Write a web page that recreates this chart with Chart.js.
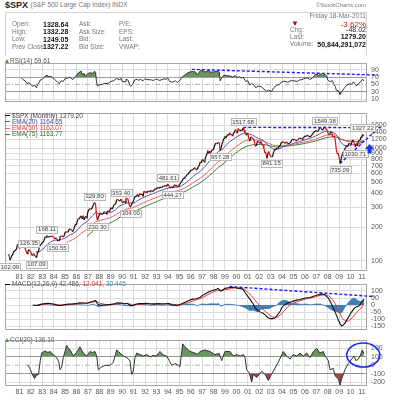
<!DOCTYPE html>
<html><head><meta charset="utf-8">
<script src="https://cdn.jsdelivr.net/npm/chart.js"></script>
<style>
html,body{margin:0;padding:0;background:#fff}
body{width:393px;height:400px;position:relative;overflow:hidden;font-family:"Liberation Sans",Arial,sans-serif}
canvas{position:absolute;left:0}
.t{position:absolute;white-space:nowrap;line-height:1}
.g{color:#777;font-size:6.5px}
.v{font-weight:bold;color:#111;font-size:7px}
.d{display:inline-block;width:5px;height:1px;vertical-align:middle;margin-right:2px}
.ic{display:inline-block;width:0;height:0;border-left:2.5px solid transparent;border-right:2.5px solid transparent;border-bottom:4px solid #5a8a4a;margin-right:1px;vertical-align:0}
</style></head><body>

<canvas id="rsi" width="393" height="55" style="top:55px"></canvas>
<canvas id="main" width="393" height="180" style="top:105px"></canvas>
<canvas id="macd" width="393" height="62" style="top:276px"></canvas>
<canvas id="cci" width="393" height="68" style="top:332px"></canvas>

<div class="t" style="left:5px;top:1px;font-size:9px;font-weight:bold;color:#222">$SPX <span style="font-weight:normal;font-size:6.5px;color:#777;vertical-align:1px">(S&amp;P 500 Large Cap Index) INDX</span></div>
<div class="t" style="right:27px;top:2px;font-size:6px;color:#777">©StockCharts.com</div>
<div style="position:absolute;left:5px;top:12px;width:360px;height:43px;border:1px solid #d4d4d4;border-bottom:none"></div>

<div class="t g" style="left:12px;top:21px">Open:</div>
<div class="t v" style="left:43px;top:20.5px">1328.64</div>
<div class="t g" style="left:79px;top:21px">Ask:</div>
<div class="t g" style="left:119px;top:21px">P/E:</div>
<div class="t g" style="left:12px;top:28.5px">High:</div>
<div class="t v" style="left:43px;top:28px">1332.28</div>
<div class="t g" style="left:79px;top:28.5px">Ask Size:</div>
<div class="t g" style="left:119px;top:28.5px">EPS:</div>
<div class="t g" style="left:12px;top:36px">Low:</div>
<div class="t v" style="left:43px;top:35.5px">1249.05</div>
<div class="t g" style="left:79px;top:36px">Bid:</div>
<div class="t g" style="left:119px;top:36px">Last:</div>
<div class="t g" style="left:12px;top:43.5px">Prev Close:</div>
<div class="t v" style="left:43px;top:43px">1327.22</div>
<div class="t g" style="left:79px;top:43.5px">Bid Size:</div>
<div class="t g" style="left:119px;top:43.5px">VWAP:</div>

<div class="t g" style="right:27px;top:13px">Friday 18-Mar-2011</div>
<div class="t" style="left:291px;top:20px;font-size:8px;color:#a01010">▼</div>
<div class="t" style="right:27px;top:20.5px;font-size:8px;color:#b01818">-3.62%</div>
<div class="t g" style="left:290px;top:26.5px">Chg:</div>
<div class="t" style="right:27px;top:26px;font-size:7px;color:#222">-48.02</div>
<div class="t g" style="left:290px;top:33.5px">Last:</div>
<div class="t v" style="right:27px;top:33px">1279.20</div>
<div class="t g" style="left:290px;top:41px">Volume:</div>
<div class="t v" style="right:27px;top:40.5px">50,844,291,072</div>

<div class="t" style="left:5px;top:57.5px;font-size:6.5px;color:#555"><span class="ic"></span>RSI(14) 59.61</div>
<div class="t" style="left:5px;top:112.5px;font-size:6.5px;color:#444"><span class="d" style="background:#111"></span>$SPX (Monthly) 1279.20</div>
<div class="t" style="left:5px;top:118.5px;font-size:6.5px;color:#44449a"><span class="d" style="background:#5555aa"></span>EMA(20) 1164.65</div>
<div class="t" style="left:5px;top:125px;font-size:6.5px;color:#e04040"><span class="d" style="background:#ff5a5a"></span>EMA(50) 1162.07</div>
<div class="t" style="left:5px;top:131.3px;font-size:6.5px;color:#336633"><span class="d" style="background:#3d7a3d"></span>EMA(75) 1163.77</div>
<div class="t" style="left:5px;top:281px;font-size:6.5px;color:#555"><span class="d" style="background:#111"></span>MACD(12,26,9) 42.486, <span style="color:#e03030">12.041</span>, <span style="color:#3f7fb5">30.445</span></div>
<div class="t" style="left:5px;top:336.5px;font-size:6.5px;color:#555"><span class="ic"></span>CCI(20) 136.10</div>

<script>
// ---------- DATA ----------
const priceStartYear = 1980; // monthly closes from Jan 1980
const spxClose = [
114.16,113.66,102.09,106.29,111.24,114.24,121.67,122.38,125.46,127.47,140.52,135.76,
129.55,131.27,136.00,132.81,132.59,131.21,130.92,122.79,116.18,121.89,126.35,122.55,
120.40,113.11,111.96,116.44,111.88,109.61,107.09,119.51,120.42,133.71,138.54,140.64,
145.30,148.06,152.96,164.42,162.39,168.11,162.56,164.40,166.07,163.55,166.40,164.93,
163.41,157.06,159.18,160.05,150.55,153.18,150.66,166.68,166.10,166.09,163.58,167.24,
179.63,181.18,180.66,179.83,189.55,191.85,190.92,188.63,182.08,189.82,202.17,211.28,
211.78,226.92,238.90,235.52,247.35,250.84,236.12,252.93,231.32,243.98,249.22,242.17,
274.08,284.20,291.70,288.36,290.10,304.00,318.66,329.80,321.83,251.79,230.30,247.08,
257.07,267.82,258.89,261.33,262.16,273.50,272.02,261.52,271.91,278.97,273.70,277.72,
297.47,288.86,294.87,309.64,320.52,317.98,346.08,351.45,349.15,340.36,345.99,353.40,
329.08,331.89,339.94,330.80,361.23,358.02,356.15,322.56,306.05,304.00,322.22,330.22,
343.93,367.07,375.22,375.35,389.83,371.16,387.81,395.43,387.86,392.45,375.22,417.09,
408.79,412.70,403.69,414.95,415.35,408.14,424.21,414.03,417.80,418.68,431.35,435.71,
438.78,443.38,451.67,440.19,450.19,450.53,448.13,463.56,458.93,467.83,461.79,466.45,
481.61,467.14,445.77,450.91,456.50,444.27,458.26,475.49,462.69,472.35,453.69,459.27,
470.42,487.39,500.71,514.71,533.40,544.75,562.06,561.88,584.41,581.50,605.37,615.93,
636.02,640.43,645.50,654.17,669.12,670.63,639.95,651.99,687.31,705.27,757.02,740.74,
786.16,790.82,757.12,801.34,848.28,885.14,954.29,899.47,947.28,914.62,955.40,970.43,
980.28,1049.34,1101.75,1111.75,1090.82,1133.84,1120.67,957.28,1017.01,1098.67,1163.63,1229.23,
1279.64,1238.33,1286.37,1335.18,1301.84,1372.71,1328.72,1320.41,1282.71,1362.93,1388.91,1469.25,
1394.46,1366.42,1498.58,1452.43,1420.60,1454.60,1430.83,1517.68,1436.51,1429.40,1314.95,1320.28,
1366.01,1239.94,1160.33,1249.46,1255.82,1224.38,1211.23,1133.58,1040.94,1059.78,1139.45,1148.08,
1130.20,1106.73,1147.39,1076.92,1067.14,989.82,911.62,916.07,815.28,885.76,936.31,879.82,
855.70,841.15,848.18,916.92,963.59,974.50,990.31,1008.01,995.97,1050.71,1058.20,1111.92,
1131.13,1144.94,1126.21,1107.30,1120.68,1140.84,1101.72,1104.24,1114.58,1130.20,1173.82,1211.92,
1181.27,1203.60,1180.59,1156.85,1191.50,1191.33,1234.18,1220.33,1228.81,1207.01,1249.48,1248.29,
1280.08,1280.66,1294.83,1310.61,1270.09,1270.20,1276.66,1303.82,1335.85,1377.94,1400.63,1418.30,
1438.24,1406.82,1420.86,1482.37,1530.62,1503.35,1455.27,1473.99,1526.75,1549.38,1481.14,1468.36,
1378.55,1330.63,1322.70,1385.59,1400.38,1280.00,1267.38,1282.83,1166.36,968.75,896.24,903.25,
825.88,735.09,797.87,872.81,919.14,919.32,987.48,1020.62,1057.08,1036.19,1095.63,1115.10,
1073.87,1104.49,1169.43,1186.69,1089.41,1030.71,1101.60,1049.33,1141.20,1183.26,1180.55,1257.64,
1286.12,1327.22,1279.20];

// quarterly (quarter-end) EMA readings
const ema20Start = 1982 + 5/12;
const ema20 = [121,119.62,124.29,130.63,139.53,145.95,150.87,153.20,153.56,155.53,158.15,163.94,169.93,174.41,181.32,192.86,206.25,215.02,222.82,238.49,252.91,271.18,263.89,263.21,263.85,265.05,268.09,274.73,285.43,301.86,313.44,318.67,326.79,327.17,325.00,334.61,346.06,357.54,367.22,377.88,386.93,395.16,403.81,414.37,422.82,431.64,440.38,446.71,447.71,452.31,454.76,462.90,480.53,503.56,528.78,557.76,585.44,604.68,638.26,674.46,718.60,774.30,818.99,877.21,938.05,962.29,1014.49,1080.18,1146.58,1189.07,1245.52,1290.66,1330.00,1364.10,1361.71,1334.19,1310.63,1263.48,1225.22,1200.07,1159.81,1087.60,1039.17,989.75,979.88,984.60,1007.65,1040.40,1061.78,1073.45,1098.97,1122.16,1137.11,1160.59,1179.85,1207.13,1226.94,1247.27,1286.56,1321.63,1369.24,1399.31,1425.29,1404.23,1391.56,1352.01,1240.83,1123.11,1066.29,1054.75,1061.89,1075.89,1082.72,1086.52,1117.76,1164.65];
const ema50Start = 1985 + 2/12;
const ema50 = [146,150.64,154.77,160.00,167.44,176.16,183.38,190.36,200.87,211.41,224.07,226.22,230.18,234.19,238.07,242.45,248.24,255.90,266.40,275.46,282.03,289.71,294.06,296.86,304.22,312.64,321.42,329.73,338.62,347.01,355.11,363.41,372.59,381.00,389.58,398.15,405.69,410.76,416.94,422.01,429.26,440.75,455.30,471.76,490.84,510.48,527.35,550.74,576.43,606.77,643.71,677.96,719.30,763.69,793.97,835.76,884.62,935.69,978.06,1026.53,1070.97,1112.96,1152.37,1175.25,1184.31,1190.96,1183.91,1176.21,1170.78,1156.52,1125.38,1099.98,1071.54,1058.00,1051.24,1053.77,1062.84,1069.63,1073.83,1084.92,1096.62,1106.03,1119.79,1132.80,1150.02,1165.12,1180.97,1205.60,1230.05,1261.17,1286.50,1310.59,1314.36,1318.99,1309.93,1266.18,1211.95,1177.12,1159.57,1150.84,1146.90,1141.86,1136.83,1144.78,1162.07];
const ema75Start = 1986 + 11/12;
const ema75 = [165,174.12,183.36,194.14,197.91,202.79,207.64,212.32,217.28,223.17,230.33,239.45,247.70,254.32,261.69,266.82,270.82,277.85,285.63,293.70,301.50,309.73,317.67,325.45,333.39,341.95,350.04,358.27,366.51,374.08,379.97,386.55,392.35,399.58,409.69,421.99,435.77,451.55,467.96,482.73,502.10,523.35,548.11,577.80,606.22,639.91,676.27,703.64,739.08,779.81,822.68,860.25,902.35,942.20,980.73,1017.76,1043.72,1060.02,1074.13,1078.32,1081.20,1084.81,1081.72,1066.27,1053.52,1037.72,1031.10,1028.56,1032.03,1039.88,1046.28,1050.95,1060.27,1070.14,1078.59,1090.08,1101.23,1115.40,1128.35,1141.99,1161.78,1181.81,1206.73,1228.18,1249.08,1256.39,1264.01,1262.07,1235.94,1201.31,1178.40,1166.33,1159.86,1156.48,1152.30,1148.07,1152.62,1163.77];

// indicator readings: [decimal year, value]
const rsiSeries = [[1981.17,68],[1981.33,63],[1981.5,60],[1981.67,52],[1981.83,55],[1982.0,50],[1982.17,45],[1982.33,48],[1982.5,41],[1982.58,50],[1982.75,56],[1982.83,62],[1983.0,64],[1983.25,72],[1983.42,75],[1983.58,71],[1983.75,72],[1983.92,68],[1984.08,64],[1984.33,56],[1984.5,52],[1984.67,60],[1984.83,58],[1985.0,66],[1985.17,67],[1985.42,70],[1985.67,63],[1985.92,72],[1986.17,82],[1986.42,86],[1986.5,77],[1986.67,80],[1986.75,72],[1987.0,80],[1987.25,82],[1987.42,80],[1987.58,86],[1987.67,83],[1987.75,57],[1987.83,46],[1988.0,49],[1988.25,50],[1988.5,53],[1988.75,52],[1989.0,58],[1989.25,60],[1989.5,66],[1989.75,63],[1989.92,66],[1990.0,58],[1990.25,57],[1990.33,64],[1990.5,62],[1990.67,48],[1990.75,45],[1990.92,50],[1991.08,62],[1991.33,64],[1991.42,61],[1991.58,64],[1991.83,60],[1992.0,66],[1992.17,63],[1992.42,63],[1992.58,62],[1992.75,61],[1992.92,64],[1993.08,64],[1993.25,61],[1993.5,63],[1993.58,65],[1993.83,64],[1994.0,67],[1994.17,58],[1994.42,56],[1994.67,60],[1994.83,55],[1995.0,59],[1995.25,70],[1995.5,76],[1995.67,80],[1995.92,84],[1996.17,85],[1996.42,84],[1996.58,76],[1996.83,87],[1997.0,88],[1997.17,84],[1997.42,85],[1997.58,89],[1997.67,83],[1997.83,84],[1998.0,84],[1998.25,86],[1998.5,84],[1998.58,60],[1998.75,70],[1998.92,75],[1999.17,74],[1999.42,73],[1999.67,70],[1999.92,74],[2000.08,68],[2000.25,71],[2000.5,67],[2000.58,70],[2000.83,58],[2001.0,60],[2001.17,48],[2001.33,53],[2001.58,47],[2001.67,41],[2001.92,45],[2002.17,44],[2002.42,37],[2002.67,31],[2002.83,35],[2002.92,33],[2003.08,31],[2003.25,40],[2003.5,47],[2003.75,50],[2004.0,57],[2004.17,59],[2004.5,56],[2004.83,61],[2005.0,60],[2005.33,58],[2005.5,62],[2005.75,63],[2005.92,66],[2006.25,68],[2006.42,63],[2006.67,68],[2006.83,74],[2006.92,78],[2007.08,78],[2007.17,74],[2007.42,79],[2007.58,74],[2007.75,78],[2007.92,72],[2008.0,62],[2008.17,58],[2008.42,60],[2008.5,52],[2008.67,44],[2008.75,34],[2008.92,33],[2009.0,28],[2009.08,22],[2009.17,27],[2009.33,35],[2009.5,42],[2009.67,48],[2009.92,52],[2010.08,50],[2010.25,57],[2010.42,50],[2010.5,46],[2010.67,52],[2010.83,56],[2011.0,62],[2011.08,64],[2011.17,59.61]];

const macdSeries = [[1982.17,0],[1982.58,-3],[1982.83,5],[1983.25,11],[1983.5,13],[1983.92,8],[1984.33,-1],[1984.58,-3],[1984.92,2],[1985.25,7],[1985.58,8],[1985.92,10],[1986.25,16],[1986.58,15],[1986.92,13],[1987.25,22],[1987.58,30],[1987.67,31],[1987.75,22],[1987.83,8],[1988.0,1],[1988.33,0],[1988.67,2],[1989.0,5],[1989.33,10],[1989.58,16],[1989.92,15],[1990.17,8],[1990.42,12],[1990.75,-3],[1990.92,-5],[1991.17,6],[1991.5,11],[1991.83,10],[1992.08,12],[1992.5,8],[1992.83,7],[1993.17,10],[1993.5,8],[1993.83,9],[1994.08,10],[1994.33,2],[1994.67,0],[1994.92,-1],[1995.17,8],[1995.5,20],[1995.83,32],[1996.17,42],[1996.5,45],[1996.81,54],[1997.1,72],[1997.4,85],[1997.7,98],[1997.98,105],[1998.25,112],[1998.4,118],[1998.58,100],[1998.75,102],[1999.0,118],[1999.44,124],[1999.9,124],[2000.08,120],[2000.32,118],[2000.58,112],[2000.76,89],[2001.0,62],[2001.2,40],[2001.42,14],[2001.64,-18],[2001.83,-35],[2002.07,-48],[2002.33,-58],[2002.5,-67],[2002.67,-82],[2002.8,-91],[2003.09,-97],[2003.38,-91],[2003.58,-72],[2003.82,-45],[2004.0,-15],[2004.26,5],[2004.5,14],[2004.7,20],[2005.0,28],[2005.28,35],[2005.58,40],[2005.86,46],[2006.17,52],[2006.45,54],[2006.75,62],[2007.03,70],[2007.25,74],[2007.47,79],[2007.76,72],[2008.05,50],[2008.2,28],[2008.35,5],[2008.5,-22],[2008.64,-48],[2008.8,-80],[2008.93,-106],[2009.08,-132],[2009.22,-148],[2009.37,-140],[2009.51,-126],[2009.66,-106],[2009.8,-87],[2009.95,-66],[2010.1,-48],[2010.25,-30],[2010.39,-18],[2010.54,-12],[2010.68,-9],[2010.83,2],[2010.97,20],[2011.08,32],[2011.17,42.49]];

const signalSeries = [[1982.5,0],[1983.0,3],[1983.5,9],[1984.0,8],[1984.5,2],[1985.0,0],[1985.5,5],[1986.0,8],[1986.5,13],[1987.0,14],[1987.5,22],[1987.75,26],[1988.0,15],[1988.5,5],[1989.0,3],[1989.5,9],[1990.0,13],[1990.5,10],[1990.92,3],[1991.5,6],[1992.0,9],[1992.5,10],[1993.0,9],[1993.5,9],[1994.0,9],[1994.5,5],[1995.0,1],[1995.5,10],[1996.0,24],[1996.5,38],[1996.92,48],[1997.33,66],[1997.83,88],[1998.33,104],[1998.75,106],[1999.17,110],[1999.58,118],[2000.0,122],[2000.5,118],[2000.83,104],[2001.17,78],[2001.5,48],[2001.83,16],[2002.17,-18],[2002.5,-42],[2002.83,-66],[2003.17,-84],[2003.5,-88],[2003.83,-72],[2004.17,-42],[2004.5,-14],[2004.83,8],[2005.25,22],[2005.67,34],[2006.08,43],[2006.5,50],[2006.92,58],[2007.33,68],[2007.75,74],[2008.08,66],[2008.42,40],[2008.75,-5],[2009.0,-50],[2009.25,-90],[2009.58,-115],[2009.83,-112],[2010.17,-88],[2010.5,-55],[2010.75,-35],[2010.83,-28],[2010.92,-19],[2011.0,-10],[2011.08,0],[2011.17,12.04]];

const histSeries = [[1982.5,-2],[1983.0,4],[1983.5,3],[1984.0,-2],[1984.5,-4],[1985.0,2],[1985.5,2],[1986.0,3],[1986.5,2],[1987.0,-2],[1987.5,6],[1987.75,-4],[1987.92,-12],[1988.25,-5],[1988.75,-2],[1989.25,5],[1989.75,4],[1990.25,-3],[1990.75,-8],[1991.17,2],[1991.5,4],[1992.0,2],[1992.5,-2],[1993.0,1],[1993.5,-1],[1994.0,1],[1994.42,-5],[1994.83,-5],[1995.25,5],[1995.75,8],[1996.25,6],[1996.58,-3],[1997.0,8],[1997.42,6],[1997.75,10],[1998.25,8],[1998.42,12],[1998.67,-8],[1999.0,6],[1999.42,6],[1999.83,2],[2000.25,-2],[2000.75,-18],[2001.17,-38],[2001.5,-36],[2001.83,-48],[2002.17,-30],[2002.5,-25],[2002.83,-25],[2003.17,-12],[2003.5,-2],[2003.83,25],[2004.17,35],[2004.5,28],[2004.83,12],[2005.25,12],[2005.67,5],[2006.08,8],[2006.5,2],[2006.92,8],[2007.33,8],[2007.75,-3],[2008.08,-20],[2008.42,-38],[2008.75,-45],[2009.08,-58],[2009.25,-52],[2009.5,-15],[2009.83,22],[2010.08,42],[2010.33,50],[2010.58,35],[2010.83,25],[2011.0,30],[2011.17,30.45]];

const cciSeries = [[1981.75,0],[1981.92,-40],[1982.17,-120],[1982.33,-157],[1982.5,-120],[1982.67,-110],[1982.83,54],[1982.95,145],[1983.24,170],[1983.5,150],[1983.68,163],[1983.97,126],[1984.27,90],[1984.45,40],[1984.56,-54],[1984.7,-20],[1984.84,90],[1985.14,235],[1985.3,200],[1985.43,185],[1985.72,110],[1986.0,150],[1986.3,218],[1986.45,180],[1986.6,145],[1986.89,109],[1987.18,163],[1987.4,150],[1987.62,163],[1987.77,109],[1987.91,-54],[1988.1,-30],[1988.35,-10],[1988.6,0],[1988.85,-5],[1989.05,10],[1989.22,36],[1989.52,181],[1989.81,145],[1990.1,109],[1990.4,90],[1990.68,54],[1990.83,-109],[1990.97,-72],[1991.12,90],[1991.27,145],[1991.56,126],[1991.85,109],[1992.15,126],[1992.45,100],[1992.7,115],[1993.0,110],[1993.31,163],[1993.6,120],[1993.9,109],[1994.1,60],[1994.34,0],[1994.63,18],[1994.92,0],[1995.06,-18],[1995.3,254],[1995.5,218],[1995.94,163],[1996.37,145],[1996.6,130],[1996.81,163],[1997.25,181],[1997.69,163],[1998.13,126],[1998.5,140],[1998.71,54],[1999.0,163],[1999.44,163],[1999.73,109],[2000.03,126],[2000.32,109],[2000.61,126],[2000.76,90],[2000.9,-54],[2001.13,-90],[2001.34,-200],[2001.48,-109],[2001.78,-145],[2002.0,-109],[2002.22,-72],[2002.51,-109],[2002.8,-181],[2003.0,-126],[2003.23,-72],[2003.67,36],[2004.11,163],[2004.4,109],[2004.7,72],[2004.98,126],[2005.28,109],[2005.57,145],[2005.86,109],[2006.16,145],[2006.45,90],[2006.74,163],[2007.03,200],[2007.32,145],[2007.61,163],[2007.76,109],[2008.05,54],[2008.2,-54],[2008.49,-36],[2008.64,-126],[2008.93,-163],[2009.07,-236],[2009.22,-163],[2009.51,-54],[2009.8,18],[2010.1,72],[2010.3,109],[2010.47,54],[2010.68,72],[2010.83,109],[2011.03,181],[2011.17,136.1]];

// annotated closes: month index from Jan 1980, +1 label above / -1 below
const annIdx  = [2,22,30,41,52,91,94,119,129,168,173,223,247,277,333,349,365,373];
const annSide = [-1,1,-1,1,-1,1,-1,1,-1,1,-1,-1,1,-1,1,-1,-1,1];

// drawn trend lines [year, value]
const rsiTrend = [[1996.1,91],[2012.4,75.5]];
const spxTopTrend = [[2000.6,1535],[2012.7,1525]];
const spxLowTrend = [[2009.08,735],[2012.3,1465]];
const macdTrend = [[1999.4,131],[2012.1,60]];
const arrowAt = [2011.66, 986];
const ellipseAt = [2011.11, 121];

// axis ticks
const rsiTicks = [10,30,50,70,90];
const priceTicks = [100,200,300,400,500,600,700,800,900,1000,1200,1400,1600];
const macdTicks = [-150,-100,-50,0,50,100];
const cciTicks = [-200,-100,0,100,200];

// ---------- CHARTS ----------
const FONT = '"Liberation Sans", Arial, sans-serif';
const X_MIN = 1979.739, X_MAX = 2011.438;
const yearTicks = []; for (let yr = 1981; yr <= 2011; yr++) yearTicks.push(yr);
const GRID = '#dcdcdc', DARK = '#9c9c9c';
const GREEN = '#6a9460', RED = '#9a4646', BLUE = '#1a1aff';

const pairs = a => a.map(p => ({x:p[0], y:p[1]}));
const seq = (a, start, step) => a.map((v,i) => ({x:start + i*step, y:v}));
const hline = v => [{x:X_MIN,y:v},{x:X_MAX,y:v}];

function xAxis(show){
  return {type:'linear', min:X_MIN, max:X_MAX, position:'bottom',
    afterBuildTicks: s => { s.ticks = yearTicks.map(v => ({value:v})); },
    afterFit: s => { s.height = show ? 10 : 0; },
    grid:{color:GRID, lineWidth:1, drawTicks:false},
    border:{display:false},
    ticks:{display:show, padding:2, autoSkip:false, maxRotation:0, minRotation:0,
      font:{size:7, family:FONT}, color:'#555',
      callback: v => String(v % 100).padStart(2,'0')}};
}
function yAxis(type, min, max, ticks, colorFn){
  return {type, min, max, position:'right',
    afterBuildTicks: s => { s.ticks = ticks.map(v => ({value:v})); },
    afterFit: s => { s.width = 26; },
    grid:{color: colorFn || GRID, lineWidth:1, drawTicks:false},
    border:{display:false},
    ticks:{padding:4, autoSkip:false, font:{size:7, family:FONT}, color:'#555', callback: v => String(v)}};
}
const boxPlugin = {id:'box', beforeDatasetsDraw(c){
  const a = c.chartArea, g = c.ctx; g.save(); g.strokeStyle = '#a8a8a8'; g.lineWidth = 1;
  g.strokeRect(Math.round(a.left)+0.5, Math.round(a.top)+0.5, Math.round(a.right-a.left)-1, Math.round(a.bottom-a.top)-1);
  g.restore(); }};

function make(id, pad, scales, datasets, extra){
  return new Chart(document.getElementById(id), {type:'line', data:{datasets},
    options:{responsive:false, animation:false, events:[], devicePixelRatio:1,
      layout:{padding:pad, autoPadding:false},
      plugins:{legend:{display:false}, tooltip:{enabled:false}},
      elements:{point:{radius:0}, line:{tension:0}},
      scales},
    plugins:[boxPlugin].concat(extra || [])});
}
const line = (data, color, w, order, more) => Object.assign({data, borderColor:color, borderWidth:w, pointRadius:0, fill:false, order}, more || {});
const trend = (data) => line(pairs(data), BLUE, 1.4, 0, {borderDash:[3,2], clip:false});
const dashdot = (v) => line(hline(v), '#b4b4b4', 1, 9, {borderDash:[5,2,1,2]});

// RSI
const rsiData = pairs(rsiSeries);
make('rsi', {left:5, right:0, top:2, bottom:3},
  {x:xAxis(false), y:yAxis('linear', 2.6, 107.9, rsiTicks, c => (c.tick.value===30||c.tick.value===70) ? DARK : (c.tick.value===50 ? 'rgba(0,0,0,0)' : GRID))},
  [trend(rsiTrend),
   line(rsiData, '#333', 1, 1),
   line(rsiData, 'rgba(0,0,0,0)', 1, 5, {fill:{target:{value:70}, above:GREEN, below:'rgba(0,0,0,0)'}}),
   line(rsiData, 'rgba(0,0,0,0)', 1, 6, {fill:{target:{value:30}, above:'rgba(0,0,0,0)', below:RED}}),
   dashdot(50)]);

// Price
const mainAnno = {id:'mainAnno', afterDatasetsDraw(c){
  const g = c.ctx, xs = c.scales.x, ys = c.scales.y;
  g.save();
  g.font = '6px ' + FONT; g.textAlign = 'center'; g.textBaseline = 'middle';
  annIdx.forEach((i,k) => {
    const v = spxClose[i], txt = v.toFixed(2);
    const px = xs.getPixelForValue(priceStartYear + i/12);
    const py = ys.getPixelForValue(v) + (annSide[k] > 0 ? -6.5 : 6.5);
    const w = Math.round(g.measureText(txt).width + 3);
    const bx = Math.round(px - w/2) + 0.5, by = Math.round(py - 3.5) + 0.5;
    g.fillStyle = '#f7f7f7'; g.strokeStyle = '#b8b8b8'; g.lineWidth = 1;
    g.fillRect(bx, by, w, 7); g.strokeRect(bx, by, w, 7);
    g.fillStyle = '#444'; g.fillText(txt, px, py + 0.5);
  });
  const ax = xs.getPixelForValue(arrowAt[0]), ay = ys.getPixelForValue(arrowAt[1]);
  g.fillStyle = '#1535e8';
  g.beginPath(); g.moveTo(ax-4.5, ay); g.lineTo(ax, ay-5); g.lineTo(ax+4.5, ay); g.closePath(); g.fill();
  g.fillRect(ax-2, ay, 4, 4.5);
  g.restore(); }};
make('main', {left:5, right:0, top:3, bottom:4.3},
  {x:xAxis(true), y:yAxis('logarithmic', 82, 2050, priceTicks)},
  [trend(spxTopTrend), trend(spxLowTrend),
   line(seq(spxClose, priceStartYear, 1/12), '#111', 1.2, 1,
     {segment:{borderColor: s => s.p1.parsed.y < s.p0.parsed.y ? '#e01010' : '#111'}}),
   line(seq(ema20, ema20Start, 0.25), '#5555aa', 1, 2),
   line(seq(ema50, ema50Start, 0.25), '#ff5a5a', 1, 3),
   line(seq(ema75, ema75Start, 0.25), '#3d7a3d', 1, 4)],
  [mainAnno]);

// MACD
make('macd', {left:5, right:0, top:4, bottom:3},
  {x:xAxis(false), y:yAxis('linear', -174.5, 147.5, macdTicks)},
  [trend(macdTrend),
   line(pairs(macdSeries), '#111', 1.1, 1),
   line(pairs(signalSeries), '#f03a3a', 1, 2),
   line(pairs(histSeries), '#2f6fa5', 0.6, 5, {fill:'origin', backgroundColor:'#3f7fb5'})]);

// CCI
const cciAnno = {id:'cciAnno', afterDatasetsDraw(c){
  const g = c.ctx, cx = c.scales.x.getPixelForValue(ellipseAt[0]), cy = c.scales.y.getPixelForValue(ellipseAt[1]);
  g.save(); g.strokeStyle = '#1a2aff'; g.lineWidth = 1.6;
  g.beginPath(); g.ellipse(cx, cy, 16.5, 12, 0, 0, Math.PI*2); g.stroke(); g.restore(); }};
const cciData = pairs(cciSeries);
make('cci', {left:5, right:0, top:4, bottom:4},
  {x:xAxis(true), y:yAxis('linear', -247.3, 297.4, cciTicks, c => (Math.abs(c.tick.value)===100) ? DARK : (c.tick.value===0 ? 'rgba(0,0,0,0)' : GRID))},
  [line(cciData, '#333', 1, 1),
   line(cciData, 'rgba(0,0,0,0)', 1, 5, {fill:{target:{value:100}, above:GREEN, below:'rgba(0,0,0,0)'}}),
   line(cciData, 'rgba(0,0,0,0)', 1, 6, {fill:{target:{value:-100}, above:'rgba(0,0,0,0)', below:RED}}),
   dashdot(0)],
  [cciAnno]);
</script>
</body></html>
